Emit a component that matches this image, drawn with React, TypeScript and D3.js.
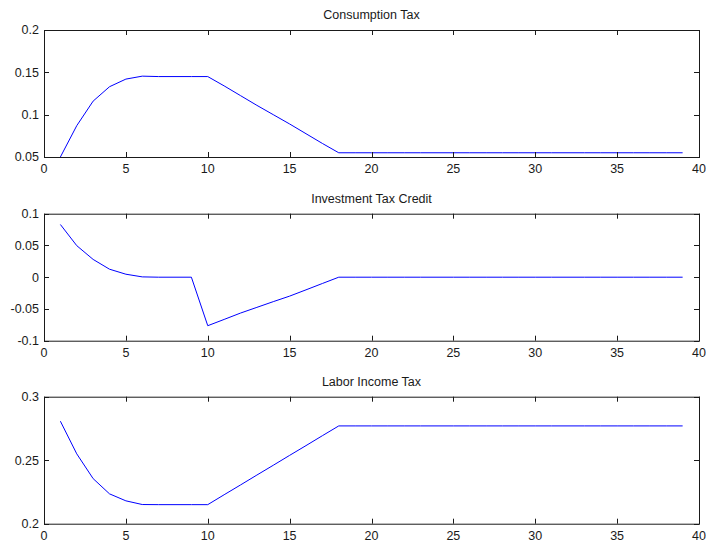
import React from 'react';
import * as d3 from 'd3';

// periods on the x axis
const periods = [
  1, 2, 3, 4, 5, 6, 7, 8, 9, 10, 11, 12, 13, 14, 15, 16, 17, 18, 19, 20,
  21, 22, 23, 24, 25, 26, 27, 28, 29, 30, 31, 32, 33, 34, 35, 36, 37, 38, 39,
];

const consumptionTax = [
  0.05, 0.087, 0.116, 0.133, 0.142, 0.1455, 0.145, 0.145, 0.145, 0.145,
  0.134, 0.1225, 0.111, 0.1, 0.089, 0.0775, 0.066, 0.055,
  0.055, 0.055, 0.055, 0.055, 0.055, 0.055, 0.055, 0.055, 0.055, 0.055,
  0.055, 0.055, 0.055, 0.055, 0.055, 0.055, 0.055, 0.055, 0.055, 0.055, 0.055,
];

const investmentCredit = [
  0.083, 0.0497, 0.028, 0.0126, 0.0047, 0.0005, 0, 0, 0, -0.0764,
  -0.0665, -0.0565, -0.0475, -0.0385, -0.0298, -0.0199, -0.0099, 0,
  0, 0, 0, 0, 0, 0, 0, 0, 0, 0,
  0, 0, 0, 0, 0, 0, 0, 0, 0, 0, 0,
];

const laborTax = [
  0.2807, 0.255, 0.2355, 0.2235, 0.218, 0.2151, 0.215, 0.215, 0.215, 0.215,
  0.2228, 0.2305, 0.2383, 0.246, 0.2538, 0.2615, 0.2693, 0.277,
  0.277, 0.277, 0.277, 0.277, 0.277, 0.277, 0.277, 0.277, 0.277, 0.277,
  0.277, 0.277, 0.277, 0.277, 0.277, 0.277, 0.277, 0.277, 0.277, 0.277, 0.277,
];

const titles = ['Consumption Tax', 'Investment Tax Credit', 'Labor Income Tax'];
const xTicks = [0, 5, 10, 15, 20, 25, 30, 35, 40];
const yTicks1 = [0.05, 0.1, 0.15, 0.2];
const yTicks2 = [-0.1, -0.05, 0, 0.05, 0.1];
const yTicks3 = [0.2, 0.25, 0.3];

const W = 706;
const H = 544;
const left = 44;
const right = 699;
const plotH = 127;
const tops = [30, 213.7, 396.7];
const tickLen = 5;
const font = 'Arial, "Liberation Sans", Helvetica, sans-serif';
const ink = '#1a1a1a';

const panels = [
  { title: titles[0], values: consumptionTax, ticks: yTicks1 },
  { title: titles[1], values: investmentCredit, ticks: yTicks2 },
  { title: titles[2], values: laborTax, ticks: yTicks3 },
];

function Panel({ top, title, values, ticks }: { top: number; title: string; values: number[]; ticks: number[] }) {
  const x = d3.scaleLinear().domain([0, 40]).range([left, right]);
  const y = d3.scaleLinear().domain([ticks[0], ticks[ticks.length - 1]]).range([top + plotH, top]);
  const line = d3.line<number>()
    .x((_, i) => x(periods[i]))
    .y(d => y(d));
  const bottom = top + plotH;

  return (
    <g>
      <text x={(left + right) / 2} y={top - 11} textAnchor="middle" fontSize={12.5} fill={ink}>{title}</text>
      <path d={line(values) || ''} fill="none" stroke="#0000ff" strokeWidth={1} />
      <rect x={left + 0.5} y={top + 0.5} width={right - left} height={plotH} fill="none" stroke={ink} strokeWidth={1} />
      {xTicks.map(t => (
        <g key={'x' + t}>
          <line x1={Math.round(x(t)) + 0.5} x2={Math.round(x(t)) + 0.5} y1={bottom} y2={bottom - tickLen} stroke={ink} />
          <line x1={Math.round(x(t)) + 0.5} x2={Math.round(x(t)) + 0.5} y1={top} y2={top + tickLen} stroke={ink} />
          <text x={x(t)} y={bottom + 16} textAnchor="middle" fontSize={12.5} fill={ink}>{t}</text>
        </g>
      ))}
      {ticks.map(t => (
        <g key={'y' + t}>
          <line x1={left} x2={left + tickLen} y1={Math.round(y(t)) + 0.5} y2={Math.round(y(t)) + 0.5} stroke={ink} />
          <line x1={right} x2={right - tickLen} y1={Math.round(y(t)) + 0.5} y2={Math.round(y(t)) + 0.5} stroke={ink} />
          <text x={left - 5} y={y(t)} dy="0.35em" textAnchor="end" fontSize={12.5} fill={ink}>{String(t)}</text>
        </g>
      ))}
    </g>
  );
}

export default function App() {
  return (
    <svg width={W} height={H} style={{ position: 'absolute', left: 0, top: 0, background: '#fff' }} fontFamily={font}>
      <rect width={W} height={H} fill="#fff" />
      {panels.map((p, i) => (
        <Panel key={p.title} top={tops[i]} title={p.title} values={p.values} ticks={p.ticks} />
      ))}
    </svg>
  );
}
